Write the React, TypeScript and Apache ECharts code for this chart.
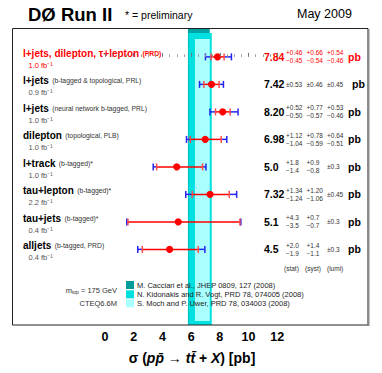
import React, { useEffect, useRef } from "react";
import * as echarts from "echarts";

const rowLabels = ["l+jets, dilepton, τ+lepton", "l+jets", "l+jets", "dilepton", "l+track", "tau+lepton", "tau+jets", "alljets"];
const rowNotes = ["(PRD)", "(b-tagged & topological, PRL)", "(neural network b-tagged, PRL)", "(topological, PLB)", "(b-tagged)*", "(b-tagged)*", "(b-tagged)*", "(b-tagged, PRD)"];
const lumis = ["1.0", "0.9", "1.0", "1.0", "1.0", "2.2", "0.4", "0.4"];
const xsec = [7.84, 7.42, 8.2, 6.98, 5.0, 7.32, 5.1, 4.5];
const decimals = [2, 2, 2, 2, 1, 2, 1, 1];
const statUp = [0.46, 0.53, 0.52, 1.12, 1.8, 1.34, 4.3, 2.0];
const statDn = [0.45, 0.53, 0.5, 1.04, 1.4, 1.24, 3.5, 1.9];
const systUp = [0.66, 0.46, 0.77, 0.78, 0.9, 1.2, 0.7, 1.4];
const systDn = [0.54, 0.46, 0.57, 0.59, 0.8, 1.06, 0.7, 1.1];
const lumiUp = [0.54, 0.45, 0.53, 0.64, 0.3, 0.45, 0.3, 0.3];
const lumiDn = [0.46, 0.45, 0.46, 0.51, 0.3, 0.45, 0.3, 0.3];
const compactRows = [false, true, false, false, false, false, false, false];
const highlightRow = 0;

const theoryNames = [
  "M. Cacciari et al., JHEP 0809, 127 (2008)",
  "N. Kidonakis and R. Vogt, PRD 78, 074005 (2008)",
  "S. Moch and P. Uwer, PRD 78, 034003 (2008)",
];
const theoryLow = [5.78, 5.82, 6.27];
const theoryHigh = [7.3, 7.44, 7.3];

const FONT = "'Liberation Sans', Arial, Helvetica, sans-serif";
const RED = "#ff0000";
const BLUE = "#2525f0";
const PINK = "#ff4a4a";
const bandColors = ["#00a3a3", "#00e0e0", "#aaffff"];
const legendColors = ["#009c9c", "#00e0e0", "#aaffff"];

const quad = (...v: number[]) => Math.sqrt(v.reduce((s, x) => s + x * x, 0));
const fmt = (v: number, d: number) => v.toFixed(d);

const barData = xsec.map((v, i) => [
  v,
  i,
  v - statDn[i],
  v + statUp[i],
  v - quad(statDn[i], systDn[i], lumiDn[i]),
  v + quad(statUp[i], systUp[i], lumiUp[i]),
]);

function txt(x: number, y: number, text: string, font: string, fill: string, align = "left", extra: any = {}) {
  return {
    type: "text",
    x,
    y,
    style: { text, font, fill, align, verticalAlign: "middle", textAlign: align, textVerticalAlign: "middle", ...extra },
  };
}

function buildOption() {
  const bandSeries = {
    type: "custom",
    z: 1,
    data: theoryLow.map((l, i) => [l, theoryHigh[i]]),
    renderItem: (params: any, api: any) => {
      const k = params.dataIndex;
      const cs = params.coordSys;
      const lo = api.coord([api.value(0), 0])[0];
      const hi = api.coord([api.value(1), 0])[0];
      const topOff = [0, 5, 11][k];
      const botOff = [0, 0, 4][k];
      return {
        type: "rect",
        shape: { x: lo, y: cs.y + topOff, width: hi - lo, height: cs.height - topOff - botOff },
        style: { fill: bandColors[k] },
      };
    },
  };

  const barSeries = {
    type: "custom",
    z: 5,
    data: barData,
    renderItem: (params: any, api: any) => {
      const i = api.value(1);
      const c = api.coord([api.value(0), i]);
      const y = c[1];
      const sL = api.coord([api.value(2), i])[0];
      const sH = api.coord([api.value(3), i])[0];
      const tL = api.coord([api.value(4), i])[0];
      const tH = api.coord([api.value(5), i])[0];
      const ln = (x1: number, y1: number, x2: number, y2: number, col: string, w = 1.5) => ({
        type: "line",
        shape: { x1, y1, x2, y2 },
        style: { stroke: col, lineWidth: w },
      });
      const h = 3.5;
      return {
        type: "group",
        children: [
          ln(tL, y, sL, y, BLUE),
          ln(sH, y, tH, y, BLUE),
          ln(sL, y, sH, y, RED),
          ln(tL, y - h, tL, y + h, BLUE),
          ln(tH, y - h, tH, y + h, BLUE),
          ln(sL, y - h, sL, y + h, PINK),
          ln(sH, y - h, sH, y + h, PINK),
          { type: "circle", shape: { cx: c[0], cy: y, r: 3.6 }, style: { fill: RED } },
        ],
      };
    },
  };

  const textSeries = {
    type: "custom",
    z: 6,
    data: rowLabels.map((_, i) => [0, i]),
    renderItem: (params: any, api: any) => {
      const i = params.dataIndex;
      const y = api.coord([0, i])[1];
      const hl = i === highlightRow;
      const col = hl ? RED : "#000";
      const small = hl ? RED : "#333";
      const d = decimals[i];
      const children: any[] = [];
      children.push({
        type: "text",
        x: 23,
        y: y - 3.5,
        style: {
          text: `{m|${rowLabels[i]}} {n|${rowNotes[i]}}`,
          verticalAlign: "middle",
          textVerticalAlign: "middle",
          rich: {
            m: { fontSize: 10, fontWeight: "bold", fontFamily: FONT, fill: col },
            n: { fontSize: 6.8, fontWeight: hl ? "bold" : "normal", fontFamily: FONT, fill: small },
          },
        },
      });
      children.push(txt(28.5, y + 8.5, `${lumis[i]} fb⁻¹`, `7.5px ${FONT}`, hl ? RED : "#555"));
      children.push(txt(264, y, fmt(xsec[i], d), `bold 10.5px ${FONT}`, col));
      const cols = [286, 306.5, 327];
      const ups = [statUp[i], systUp[i], lumiUp[i]];
      const dns = [statDn[i], systDn[i], lumiDn[i]];
      const ef = `6.5px ${FONT}`;
      for (let k = 0; k < 3; k++) {
        const sym = compactRows[i] || (k === 2 && ups[k] === dns[k]);
        if (sym) {
          children.push(txt(cols[k], y, `±${fmt(ups[k], d)}`, ef, small));
        } else {
          children.push(txt(cols[k], y - 4, `+${fmt(ups[k], d)}`, ef, small));
          children.push(txt(cols[k], y + 4, `−${fmt(dns[k], d)}`, ef, small));
        }
      }
      children.push(txt(compactRows[i] ? 352 : 348, y, "pb", `bold 10.5px ${FONT}`, col));
      return { type: "group", children };
    },
  };

  const graphic: any[] = [
    {
      type: "rect",
      z: 50,
      shape: { x: 12.5, y: 28.5, width: 355.5, height: 296.5 },
      style: { fill: "none", stroke: "#222", lineWidth: 1 },
    },
    {
      type: "line",
      z: 51,
      shape: { x1: 368.5, y1: 29, x2: 368.5, y2: 326 },
      style: { stroke: "#8a8a8a", lineWidth: 2 },
    },
    { ...txt(28, 14, "DØ Run II", `bold 18.5px ${FONT}`, "#000"), z: 60 },
    { ...txt(125, 15, "* = preliminary", `10.5px ${FONT}`, "#000"), z: 60 },
    { ...txt(297, 14, "May 2009", `12.5px ${FONT}`, "#000"), z: 60 },
    { ...txt(284, 268, "(stat)", `6.5px ${FONT}`, "#333"), z: 60 },
    { ...txt(305, 268, "(syst)", `6.5px ${FONT}`, "#333"), z: 60 },
    { ...txt(327, 268, "(lumi)", `6.5px ${FONT}`, "#333"), z: 60 },
    {
      type: "text",
      z: 60,
      x: 117,
      y: 290,
      style: {
        text: "{a|m}{s|top}{a| = 175 GeV}",
        align: "right",
        textAlign: "right",
        verticalAlign: "middle",
        textVerticalAlign: "middle",
        rich: {
          a: { fontSize: 7.5, fontFamily: FONT, fill: "#333" },
          s: { fontSize: 5, fontFamily: FONT, fill: "#333", padding: [4, 0, 0, 0] },
        },
      },
    },
    { ...txt(117, 303, "CTEQ6.6M", `7.5px ${FONT}`, "#333", "right"), z: 60 },
    {
      type: "text",
      z: 60,
      x: 192,
      y: 358,
      style: {
        text: "{n|σ (}{i|pp\u0304}{n| → }{i|tt\u0304}{n| + }{i|X}{n|) [pb]}",
        align: "center",
        textAlign: "center",
        verticalAlign: "middle",
        textVerticalAlign: "middle",
        rich: {
          n: { fontSize: 14, fontWeight: "bold", fontFamily: FONT, fill: "#000" },
          i: { fontSize: 14, fontWeight: "bold", fontStyle: "italic", fontFamily: FONT, fill: "#000" },
        },
      },
    },
  ];
  const legendY = [285, 294.3, 303.3];
  theoryNames.forEach((name, k) => {
    graphic.push({
      type: "rect",
      z: 55,
      shape: { x: 126, y: legendY[k] - 4, width: 8, height: 8 },
      style: { fill: legendColors[k] },
    });
    graphic.push({ ...txt(137, legendY[k], name, `7.5px ${FONT}`, "#222"), z: 60 });
  });

  return {
    animation: false,
    backgroundColor: "#fff",
    grid: { left: 105, right: 104.8, top: 28, bottom: 48, containLabel: false },
    xAxis: {
      type: "value",
      min: 0,
      max: 12,
      interval: 2,
      z: 10,
      axisLine: { show: false },
      axisTick: { show: true, inside: true, length: 4, lineStyle: { color: "#777", width: 1 } },
      minorTick: { show: true, splitNumber: 4, length: 2.5, lineStyle: { color: "#999", width: 1 } },
      splitLine: { show: false },
      axisLabel: { fontSize: 12.5, fontWeight: "bold", fontFamily: FONT, color: "#000", margin: 5 },
    },
    yAxis: {
      type: "value",
      inverse: true,
      min: -1.05,
      max: 9.75,
      show: false,
      splitLine: { show: false },
    },
    series: [bandSeries, barSeries, textSeries],
    graphic,
  };
}

export default function App() {
  const ref = useRef<HTMLDivElement>(null);
  useEffect(() => {
    document.body.style.margin = "0";
    const chart = echarts.init(ref.current!, null, { renderer: "svg" });
    chart.setOption(buildOption() as any);
    return () => chart.dispose();
  }, []);
  return <div ref={ref} style={{ position: "absolute", left: 0, top: 0, width: 382, height: 373 }} />;
}
